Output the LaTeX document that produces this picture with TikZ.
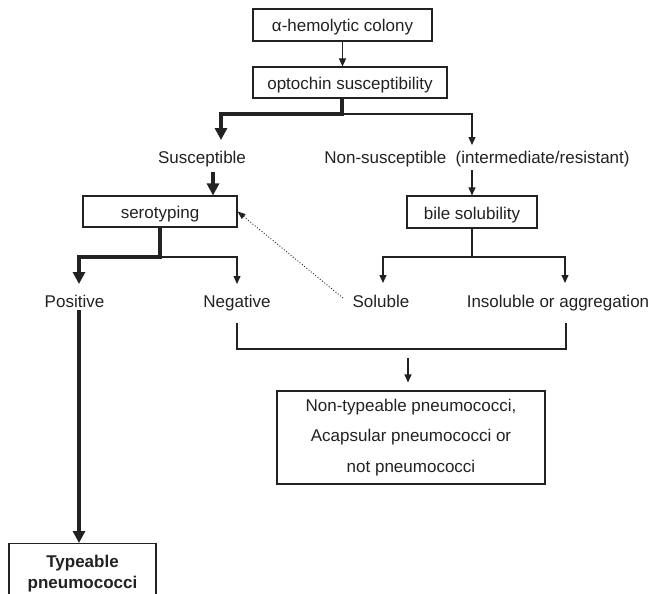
\documentclass[tikz,border=0pt]{standalone}
\usepackage{fontspec}
\setmainfont{Liberation Sans}
\usetikzlibrary{arrows.meta,calc}
\definecolor{ink}{HTML}{222222}
\begin{document}
\begin{tikzpicture}[x=1pt,y=-1pt,
  every node/.style={text=ink, font=\fontsize{17}{20}\selectfont},
  box/.style={draw=ink, line width=1.1pt, inner sep=0pt, text height=14pt, text depth=0pt},
  lab/.style={inner sep=0pt, anchor=base},
  thn/.style={draw=ink, line width=1.1pt, -{Triangle[length=8pt,width=7pt]}},
  thk/.style={draw=ink, line width=4pt, -{Triangle[length=12pt,width=12pt]}},
  plain/.style={draw=ink, line width=1.1pt},
  dot/.style={draw=ink, line width=0.9pt, dotted, -{Triangle[length=8pt,width=6pt]}}]
\useasboundingbox (0,0) rectangle (651,594);
\clip (0,0) rectangle (651,594);
\fill[white] (0,0) rectangle (651,594);

% boxes
\node[box, minimum width=179pt, minimum height=32pt] (hem) at (342.5,25) {α-hemolytic colony};
\node[box, minimum width=194pt, minimum height=31pt] (opt) at (350,82.5) {optochin susceptibility};
\node[box, minimum width=154pt, minimum height=31pt] (sero) at (160,211.5) {serotyping};
\node[box, minimum width=130pt, minimum height=32pt] (bile) at (472,212) {bile solubility};

% labels
\node[lab] (susc) at (202,163) {Susceptible};
\node[lab] (nons) at (477,163.3) {Non-susceptible~~(intermediate/resistant)};
\node[lab] (pos) at (74.5,307) {Positive};
\node[lab] (neg) at (237,307) {Negative};
\node[lab] (sol) at (381,307) {Soluble};
\node[lab] (ins) at (558,307) {Insoluble or aggregation};

% outcome boxes
\node[draw=ink, line width=1.1pt, minimum width=268pt, minimum height=93pt, align=center, inner sep=0pt,
      font=\fontsize{17}{30.5}\selectfont] (ntp) at (411,437.5)
      {Non-typeable pneumococci,\\ Acapsular pneumococci or\\ not pneumococci};
\node[draw=ink, line width=1.1pt, anchor=north, minimum width=147pt, minimum height=60.4pt, align=center, inner sep=0pt,
      font=\bfseries\fontsize{17}{20.4}\selectfont] (typ) at (82.5,543) {Typeable\\pneumococci};

% connectors
\draw[thn] (hem.south) -- (hem.south |- opt.north);

\coordinate (o1) at (342,114);
\coordinate (sIn) at (221,140);
\coordinate (nIn) at (472,145);
\draw[thn] (o1) -| (nIn);
\draw[thk] (o1 |- opt.south) -- (o1) -| (sIn);

\coordinate (sOut) at (213,172);
\draw[thk] (sOut) -- (sOut |- sero.north);
\coordinate (nOut) at (472,170);
\draw[thn] (nOut) -- (nOut |- bile.north);

\coordinate (s1) at (160,257);
\coordinate (pIn) at (79,284);
\coordinate (gIn) at (237,284);
\draw[thn] (s1) -| (gIn);
\draw[thk] (sero.south) -- (s1) -| (pIn);

\coordinate (b1) at (472,257);
\coordinate (lIn) at (383,283);
\coordinate (iIn) at (565,283);
\draw[plain] (bile.south) -- (b1);
\draw[thn] (b1) -| (lIn);
\draw[thn] (b1) -| (iIn);

\coordinate (dStart) at (343,298);
\draw[dot] (dStart) -- (sero.east);

\coordinate (pOut) at (79,310);
\draw[thk] (pOut) -- (pOut |- typ.north);

\coordinate (gOut) at (237,323);
\coordinate (iOut) at (566,323);
\draw[plain] (gOut) -- ++(0,26) -| (iOut);
\coordinate (bOut) at (408,358);
\draw[thn] (bOut) -- ($(bOut |- ntp.north)+(0,-8)$);
\end{tikzpicture}
\end{document}
